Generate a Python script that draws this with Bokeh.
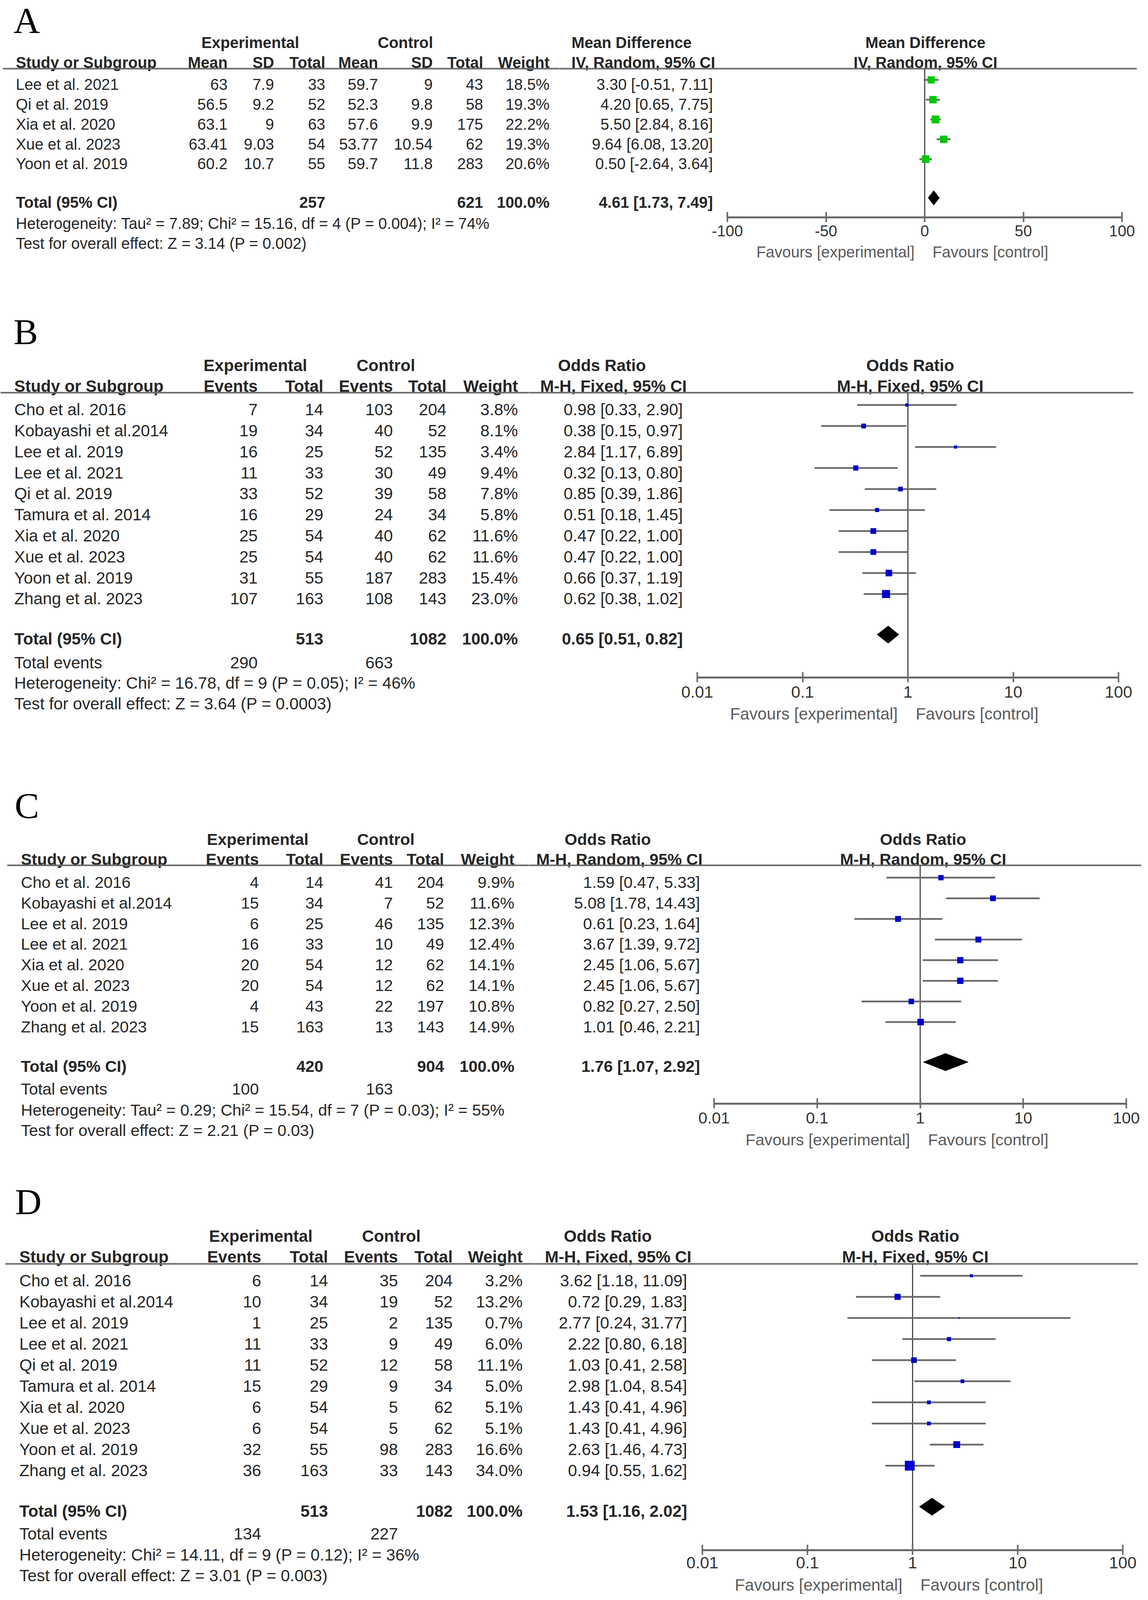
import math
from bokeh.plotting import figure
from bokeh.layouts import row, column
from bokeh.models import Range1d, FixedTicker, CustomJSTickFormatter, ColumnDataSource, LinearScale
from bokeh.core.properties import value
from bokeh.embed import file_html
from bokeh.resources import INLINE

# ======================= DATA =======================
# ---- Panel A : Mean Difference (IV, Random) ----
A_studies = ["Lee et al. 2021", "Qi et al. 2019", "Xia et al. 2020", "Xue et al. 2023", "Yoon et al. 2019"]
A_exp_mean = [63, 56.5, 63.1, 63.41, 60.2]
A_exp_sd = [7.9, 9.2, 9, 9.03, 10.7]
A_exp_total = [33, 52, 63, 54, 55]
A_ctl_mean = [59.7, 52.3, 57.6, 53.77, 59.7]
A_ctl_sd = [9, 9.8, 9.9, 10.54, 11.8]
A_ctl_total = [43, 58, 175, 62, 283]
A_weight = [18.5, 19.3, 22.2, 19.3, 20.6]
A_est = [3.30, 4.20, 5.50, 9.64, 0.50]
A_lo = [-0.51, 0.65, 2.84, 6.08, -2.64]
A_hi = [7.11, 7.75, 8.16, 13.20, 3.64]
A_totals = [257, 621]
A_pooled = [4.61, 1.73, 7.49]
A_het = "Heterogeneity: Tau² = 7.89; Chi² = 15.16, df = 4 (P = 0.004); I² = 74%"
A_test = "Test for overall effect: Z = 3.14 (P = 0.002)"
A_ticks = [-100, -50, 0, 50, 100]

# ---- Panel B : Odds Ratio (M-H, Fixed) ----
B_studies = ["Cho et al. 2016", "Kobayashi et al.2014", "Lee et al. 2019", "Lee et al. 2021", "Qi et al. 2019",
             "Tamura et al. 2014", "Xia et al. 2020", "Xue et al. 2023", "Yoon et al. 2019", "Zhang et al. 2023"]
B_exp_events = [7, 19, 16, 11, 33, 16, 25, 25, 31, 107]
B_exp_total = [14, 34, 25, 33, 52, 29, 54, 54, 55, 163]
B_ctl_events = [103, 40, 52, 30, 39, 24, 40, 40, 187, 108]
B_ctl_total = [204, 52, 135, 49, 58, 34, 62, 62, 283, 143]
B_weight = [3.8, 8.1, 3.4, 9.4, 7.8, 5.8, 11.6, 11.6, 15.4, 23.0]
B_est = [0.98, 0.38, 2.84, 0.32, 0.85, 0.51, 0.47, 0.47, 0.66, 0.62]
B_lo = [0.33, 0.15, 1.17, 0.13, 0.39, 0.18, 0.22, 0.22, 0.37, 0.38]
B_hi = [2.90, 0.97, 6.89, 0.80, 1.86, 1.45, 1.00, 1.00, 1.19, 1.02]
B_totals = [513, 1082]
B_events = [290, 663]
B_pooled = [0.65, 0.51, 0.82]
B_het = "Heterogeneity: Chi² = 16.78, df = 9 (P = 0.05); I² = 46%"
B_test = "Test for overall effect: Z = 3.64 (P = 0.0003)"

# ---- Panel C : Odds Ratio (M-H, Random) ----
C_studies = ["Cho et al. 2016", "Kobayashi et al.2014", "Lee et al. 2019", "Lee et al. 2021",
             "Xia et al. 2020", "Xue et al. 2023", "Yoon et al. 2019", "Zhang et al. 2023"]
C_exp_events = [4, 15, 6, 16, 20, 20, 4, 15]
C_exp_total = [14, 34, 25, 33, 54, 54, 43, 163]
C_ctl_events = [41, 7, 46, 10, 12, 12, 22, 13]
C_ctl_total = [204, 52, 135, 49, 62, 62, 197, 143]
C_weight = [9.9, 11.6, 12.3, 12.4, 14.1, 14.1, 10.8, 14.9]
C_est = [1.59, 5.08, 0.61, 3.67, 2.45, 2.45, 0.82, 1.01]
C_lo = [0.47, 1.78, 0.23, 1.39, 1.06, 1.06, 0.27, 0.46]
C_hi = [5.33, 14.43, 1.64, 9.72, 5.67, 5.67, 2.50, 2.21]
C_totals = [420, 904]
C_events = [100, 163]
C_pooled = [1.76, 1.07, 2.92]
C_het = "Heterogeneity: Tau² = 0.29; Chi² = 15.54, df = 7 (P = 0.03); I² = 55%"
C_test = "Test for overall effect: Z = 2.21 (P = 0.03)"

# ---- Panel D : Odds Ratio (M-H, Fixed) ----
D_studies = ["Cho et al. 2016", "Kobayashi et al.2014", "Lee et al. 2019", "Lee et al. 2021", "Qi et al. 2019",
             "Tamura et al. 2014", "Xia et al. 2020", "Xue et al. 2023", "Yoon et al. 2019", "Zhang et al. 2023"]
D_exp_events = [6, 10, 1, 11, 11, 15, 6, 6, 32, 36]
D_exp_total = [14, 34, 25, 33, 52, 29, 54, 54, 55, 163]
D_ctl_events = [35, 19, 2, 9, 12, 9, 5, 5, 98, 33]
D_ctl_total = [204, 52, 135, 49, 58, 34, 62, 62, 283, 143]
D_weight = [3.2, 13.2, 0.7, 6.0, 11.1, 5.0, 5.1, 5.1, 16.6, 34.0]
D_est = [3.62, 0.72, 2.77, 2.22, 1.03, 2.98, 1.43, 1.43, 2.63, 0.94]
D_lo = [1.18, 0.29, 0.24, 0.80, 0.41, 1.04, 0.41, 0.41, 1.46, 0.55]
D_hi = [11.09, 1.83, 31.77, 6.18, 2.58, 8.54, 4.96, 4.96, 4.73, 1.62]
D_totals = [513, 1082]
D_events = [134, 227]
D_pooled = [1.53, 1.16, 2.02]
D_het = "Heterogeneity: Chi² = 14.11, df = 9 (P = 0.12); I² = 36%"
D_test = "Test for overall effect: Z = 3.01 (P = 0.003)"

OR_ticks = [0.01, 0.1, 1, 10, 100]

# ======================= STYLE / LAYOUT =======================
FONT = "Liberation Sans"
SERIF = "Liberation Serif"
TXT = "#262626"
FAV = "#5a5a5a"
LINE = "#6a6a6a"
RIGHT_EDGE = 2930
PAGE_H = 4080          # usable layout height (px)
REF_TOP, REF_BOT = 8, 4409
FSCALE = 0.97          # font scale
LETTER_SIZE = "94px"


def fmt(v):
    return str(v)


def scr(y):
    return int(round((y - REF_TOP) * PAGE_H / (REF_BOT - REF_TOP)))


def base_fig(w, h, xr, yr, **kw):
    p = figure(width=w, height=h, x_range=xr, y_range=yr, output_backend="svg",
               toolbar_location=None, min_border_left=0, min_border_right=0,
               min_border_top=0, min_border_bottom=0, **kw)
    p.outline_line_color = None
    p.background_fill_color = "white"
    p.border_fill_color = "white"
    p.grid.grid_line_color = None
    return p


def text(p, xs, ys, texts, align="left", bold=False, size="41px", color=TXT, font=FONT,
         baseline="middle", x_offset=0, xr=None):
    src = ColumnDataSource(dict(x=list(xs), y=list(ys), t=list(texts)))
    kw = {}
    if xr:
        kw["x_range_name"] = xr
    p.text(x="x", y="y", text="t", source=src, text_align=align, text_baseline=baseline,
           text_font=value(font), text_font_size=value(size),
           text_font_style="bold" if bold else "normal", text_color=color,
           x_offset=x_offset, **kw)


def panel(P):
    top, bot, xb = P["top"], P["bottom"], P["xb"]
    Hs = scr(bot) - scr(top)
    upp = (bot - top) / Hs           # data units per screen px
    FS = "%.1fpx" % (P["fs"] * FSCALE)
    n = len(P["studies"])
    ys = [P["row0"] + i * P["dy"] for i in range(n)]

    # ---------------- left: table ----------------
    L = base_fig(xb - 8, Hs, Range1d(8, xb), Range1d(bot, top),
                 x_axis_location=None, y_axis_location=None)
    text(L, [P["letter_x"]], [P["letter_y"]], [P["letter"]], font=SERIF, size=LETTER_SIZE,
         color="black")
    text(L, [P["exp_c"]], [P["h1"]], ["Experimental"], align="center", bold=True, size=FS)
    text(L, [P["ctl_c"]], [P["h1"]], ["Control"], align="center", bold=True, size=FS)
    text(L, [P["name_x"]], [P["h2"]], ["Study or Subgroup"], bold=True, size=FS)
    for hdr, vals, x in P["cols"]:
        text(L, [x], [P["h2"]], [hdr], align="right", bold=True, size=FS)
        text(L, [x] * n, ys, [fmt(v) for v in vals], align="right", size=FS)
    text(L, [P["weight_x"]], [P["h2"]], ["Weight"], align="right", bold=True, size=FS)
    text(L, [P["weight_x"]] * n, ys, ["%.1f%%" % w for w in P["weight"]], align="right", size=FS)
    text(L, [P["name_x"]] * n, ys, P["studies"], size=FS)
    ty = P["total_y"]
    text(L, [P["name_x"]], [ty], ["Total (95% CI)"], bold=True, size=FS)
    ci0, ci1 = P["tot_cols"]
    text(L, [P["cols"][ci0][2], P["cols"][ci1][2]], [ty, ty], [fmt(v) for v in P["totals"]],
         align="right", bold=True, size=FS)
    text(L, [P["weight_x"]], [ty], ["100.0%"], align="right", bold=True, size=FS)
    if P.get("events"):
        ey = P["events_y"]
        text(L, [P["name_x"]], [ey], ["Total events"], size=FS)
        e0, e1 = P["ev_cols"]
        text(L, [P["cols"][e0][2], P["cols"][e1][2]], [ey, ey], [fmt(v) for v in P["events"]],
             align="right", size=FS)
    text(L, [P["name_x"]], [P["het_y"]], [P["het"]], size=FS)
    text(L, [P["name_x"]], [P["test_y"]], [P["test"]], size=FS)
    L.segment(x0=[P["hline_x0"]], x1=[xb], y0=[P["hline"]], y1=[P["hline"]],
              line_color=LINE, line_width=4)

    # ---------------- right: forest ----------------
    kind = P["kind"]
    a0, a1 = P["axis_px"]
    v0, v1 = P["ticks"][0], P["ticks"][-1]
    if kind == "log":
        per = (a1 - a0) / (math.log10(v1) - math.log10(v0))
        lo = 10 ** (math.log10(v0) - (a0 - xb) / per)
        hi = 10 ** (math.log10(v1) + (RIGHT_EDGE - a1) / per)
        null = 1
    else:
        per = (a1 - a0) / (v1 - v0)
        lo = v0 - (a0 - xb) / per
        hi = v1 + (RIGHT_EDGE - a1) / per
        null = 0
    xr = Range1d(lo, hi)
    W = RIGHT_EDGE - xb
    bb = P["bb"]
    Fr = int(round((P["axis_y"] - top) / upp))
    ay = top + Fr * upp
    R = figure(width=W, height=Fr + bb, x_range=xr, y_range=Range1d(ay, top),
               x_axis_type=kind, x_axis_location="below", y_axis_location=None,
               output_backend="svg", toolbar_location=None, min_border_left=0,
               min_border_right=0, min_border_top=0, min_border_bottom=bb)
    R.outline_line_color = None
    R.grid.grid_line_color = None
    R.background_fill_color = "white"
    R.border_fill_color = "white"
    R.extra_x_ranges = {"px": Range1d(xb, RIGHT_EDGE)}
    R.extra_x_scales = {"px": LinearScale()}

    text(R, [P["est_c"]], [P["h1"]], [P["est_name"]], align="center", bold=True, size=FS, xr="px")
    text(R, [P["est_h2"]], [P["h2"]], [P["method"]], bold=True, size=FS, xr="px")
    ci_txt = ["%.2f [%.2f, %.2f]" % (e, l, h) for e, l, h in zip(P["est"], P["lo"], P["hi"])]
    text(R, [P["ci_x"]] * n, ys, ci_txt, align="right", size=FS, xr="px")
    pe, pl, ph = P["pooled"]
    text(R, [P["ci_x"]], [ty], ["%.2f [%.2f, %.2f]" % (pe, pl, ph)], align="right", bold=True,
         size=FS, xr="px")
    text(R, [P["forest_c"]], [P["h1"]], [P["est_name"]], align="center", bold=True, size=FS, xr="px")
    text(R, [P["forest_c"]], [P["h2"]], [P["method"]], align="center", bold=True, size=FS, xr="px")
    R.segment(x0=[xb], x1=[P["hline_x1"]], y0=[P["hline"]], y1=[P["hline"]],
              line_color=LINE, line_width=4, x_range_name="px")

    R.segment(x0=[null], x1=[null], y0=[P["hline"]], y1=[ay], line_color="#4a4a4a", line_width=3)
    my = [y - 13 for y in ys]
    src = ColumnDataSource(dict(lo=P["lo"], hi=P["hi"], est=P["est"], y=my,
                                size=[4.3 * math.sqrt(w) for w in P["weight"]]))
    R.segment(x0="lo", x1="hi", y0="y", y1="y", source=src, line_color=LINE, line_width=4.5)
    R.scatter(x="est", y="y", size="size", marker="square", source=src,
              fill_color=P["mcolor"], line_color=None)
    dy = ty - 12
    hh = P["dhh"]
    R.patch(x=[pl, pe, ph, pe], y=[dy, dy - hh, dy, dy + hh], fill_color="black",
            line_color="black", line_width=1)

    ax = R.xaxis[0]
    ax.ticker = FixedTicker(ticks=P["ticks"])
    ax.formatter = CustomJSTickFormatter(code="return String(tick);")
    ax.bounds = (v0, v1)
    ax.axis_line_color = LINE
    ax.axis_line_width = 5
    ax.major_tick_line_color = LINE
    ax.major_tick_line_width = 4
    ax.major_tick_in = 14
    ax.major_tick_out = 12
    ax.minor_tick_line_color = None
    ax.major_label_text_font = FONT
    ax.major_label_text_font_size = FS
    ax.major_label_text_color = "#333333"
    ax.major_label_standoff = P["standoff"]

    fy0 = ay + bb * upp
    F = figure(width=W, height=Hs - Fr - bb, x_range=xr, y_range=Range1d(bot, fy0),
               x_axis_type=kind, x_axis_location=None, y_axis_location=None,
               output_backend="svg", toolbar_location=None, min_border_left=0,
               min_border_right=0, min_border_top=0, min_border_bottom=0)
    F.outline_line_color = None
    F.grid.grid_line_color = None
    text(F, [null], [P["fav_y"]], ["Favours [experimental]"], align="right", size=FS, color=FAV,
         x_offset=-26)
    text(F, [null], [P["fav_y"]], ["Favours [control]"], align="left", size=FS, color=FAV,
         x_offset=20)

    return row(L, column(R, F))


PA = dict(letter="A", letter_x=42, letter_y=64, top=8, bottom=800, xb=1440, fs=41,
          studies=A_studies, weight=A_weight, est=A_est, lo=A_lo, hi=A_hi, totals=A_totals,
          pooled=A_pooled, het=A_het, test=A_test, ticks=A_ticks, kind="linear",
          cols=[("Mean", A_exp_mean, 590), ("SD", A_exp_sd, 709), ("Total", A_exp_total, 840),
                ("Mean", A_ctl_mean, 975), ("SD", A_ctl_sd, 1115), ("Total", A_ctl_total, 1244)],
          tot_cols=(2, 5), weight_x=1414, name_x=48, exp_c=648, ctl_c=1045,
          est_name="Mean Difference", method="IV, Random, 95% CI", est_c=1624, est_h2=1470,
          ci_x=1832, forest_c=2376, h1=125, h2=180, hline=197, hline_x0=15, hline_x1=2917,
          row0=241, dy=54.75, total_y=566, het_y=625, test_y=680, axis_y=608, bb=65,
          standoff=8, fav_y=703, axis_px=(1869, 2879), mcolor="#00c800", dhh=20)

PB = dict(letter="B", letter_x=42, letter_y=924, top=800, bottom=2160, xb=1362, fs=43.5,
          studies=B_studies, weight=B_weight, est=B_est, lo=B_lo, hi=B_hi, totals=B_totals,
          events=B_events, pooled=B_pooled, het=B_het, test=B_test, ticks=OR_ticks, kind="log",
          cols=[("Events", B_exp_events, 667), ("Total", B_exp_total, 835),
                ("Events", B_ctl_events, 1013), ("Total", B_ctl_total, 1150)],
          tot_cols=(1, 3), ev_cols=(0, 2), weight_x=1333, name_x=44, exp_c=661, ctl_c=995,
          est_name="Odds Ratio", method="M-H, Fixed, 95% CI", est_c=1548, est_h2=1390,
          ci_x=1755, forest_c=2337, h1=1017, h2=1074, hline=1092, hline_x0=9, hline_x1=2908,
          row0=1139, dy=58, total_y=1772, events_y=1837, het_y=1894, test_y=1951,
          axis_y=1878, bb=70, standoff=10, fav_y=1979, axis_px=(1792, 2870),
          mcolor="#0000cc", dhh=24)

PC = dict(letter="C", letter_x=45, letter_y=2232, top=2160, bottom=3250, xb=1362, fs=42.7,
          studies=C_studies, weight=C_weight, est=C_est, lo=C_lo, hi=C_hi, totals=C_totals,
          events=C_events, pooled=C_pooled, het=C_het, test=C_test, ticks=OR_ticks, kind="log",
          cols=[("Events", C_exp_events, 670), ("Total", C_exp_total, 835),
                ("Events", C_ctl_events, 1013), ("Total", C_ctl_total, 1144)],
          tot_cols=(1, 3), ev_cols=(0, 2), weight_x=1324, name_x=61, exp_c=667, ctl_c=995,
          est_name="Odds Ratio", method="M-H, Random, 95% CI", est_c=1563, est_h2=1380,
          ci_x=1799, forest_c=2370, h1=2326, h2=2380, hline=2397, hline_x0=26, hline_x1=2928,
          row0=2444, dy=56.93, total_y=2952, events_y=3014.6, het_y=3073, test_y=3128.5,
          axis_y=3055, bb=69, standoff=10, fav_y=3155, axis_px=(1835, 2890),
          mcolor="#0000cc", dhh=24)

PD = dict(letter="D", letter_x=46, letter_y=3325, top=3250, bottom=4409, xb=1374, fs=43.5,
          studies=D_studies, weight=D_weight, est=D_est, lo=D_lo, hi=D_hi, totals=D_totals,
          events=D_events, pooled=D_pooled, het=D_het, test=D_test, ticks=OR_ticks, kind="log",
          cols=[("Events", D_exp_events, 676), ("Total", D_exp_total, 847),
                ("Events", D_ctl_events, 1026), ("Total", D_ctl_total, 1166)],
          tot_cols=(1, 3), ev_cols=(0, 2), weight_x=1345, name_x=57, exp_c=675, ctl_c=1009,
          est_name="Odds Ratio", method="M-H, Fixed, 95% CI", est_c=1563, est_h2=1402,
          ci_x=1766, forest_c=2350, h1=3420, h2=3478, hline=3497, hline_x0=21, hline_x1=2920,
          row0=3543, dy=58.3, total_y=4180, events_y=4243, het_y=4301, test_y=4358,
          axis_y=4288, bb=65, standoff=5, fav_y=4384, axis_px=(1805, 2881),
          mcolor="#0000cc", dhh=24)

layout = column(panel(PA), panel(PB), panel(PC), panel(PD))

open("out.html", "w").write(file_html(layout, INLINE, "Forest plots"))
